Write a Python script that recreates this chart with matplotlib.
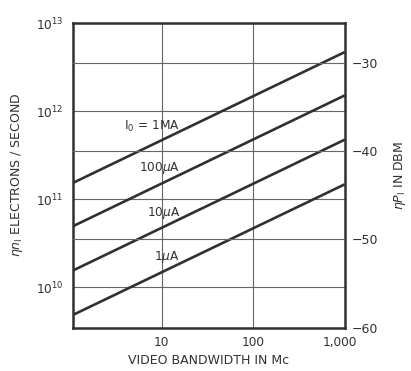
import matplotlib
matplotlib.use("Agg")
import matplotlib.pyplot as plt
import matplotlib.transforms as mtransforms
import numpy as np

# Data
bandwidth_mc = [1.0, 1000.0]
curve_labels = ["I$_0$ = 1MA", "100$\\mu$A", "10$\\mu$A", "1$\\mu$A"]
n_1ma = [1.48e11, 4.68e12]
n_100ua = [4.77e10, 1.51e12]
n_10ua = [1.50e10, 4.75e11]
n_1ua = [4.70e9, 1.48e11]
curves = [n_1ma, n_100ua, n_10ua, n_1ua]
label_pos_y = [6.7e11, 2.27e11, 7.0e10, 2.2e10]
label_pos_x = 15.8

x_ticks = [10, 100, 1000]
x_ticklabels = ["10", "100", "1,000"]
y_ticks = [1e10, 1e11, 1e12, 1e13]
y_ticklabels = ["$10^{10}$", "$10^{11}$", "$10^{12}$", "$10^{13}$"]
dbm_ticks = [-60, -50, -40, -30]
dbm_ticklabels = ["\u221260", "\u221250", "\u221240", "\u221230"]

plt.rcParams['font.family'] = ['DejaVu Sans']
plt.rcParams['mathtext.fontset'] = 'dejavusans'
ink = '#303030'
grid_c = '#666666'

fig = plt.figure(figsize=(4.11, 3.71), dpi=100)
ax = fig.add_axes([0.178, 0.117, 0.661, 0.821])
ax.set_xscale('log')
ax.set_yscale('log')
ax.set_xlim(1.08, 1000)
ymin_log = 9.544
ax.set_ylim(10**ymin_log, 1e13)

# grid lines
for xv in [10, 100]:
    ax.axvline(xv, color=grid_c, lw=0.8, zorder=1)
for yv in [1e10, 1e11, 1e12]:
    ax.axhline(yv, color=grid_c, lw=0.8, zorder=1)

for c in curves:
    ax.plot(bandwidth_mc, c, color=ink, lw=1.9, zorder=3, solid_capstyle='butt')

for lab, yv in zip(curve_labels, label_pos_y):
    ax.text(label_pos_x, yv, lab, ha='right', va='center', fontsize=8.7, color=ink)

ax.set_xticks(x_ticks)
ax.set_xticklabels(x_ticklabels)
ax.set_yticks(y_ticks)
ax.set_yticklabels(y_ticklabels)
ax.minorticks_off()
ax.tick_params(axis='both', length=0, labelsize=8.7, colors=ink)
ax.tick_params(axis='x', pad=6)
ax.tick_params(axis='y', pad=7)
labs = ax.get_xticklabels()
labs[-1].set_transform(labs[-1].get_transform() +
                       mtransforms.ScaledTranslation(-5 / 100, 0, fig.dpi_scale_trans))
for s in ax.spines.values():
    s.set_linewidth(1.8)
    s.set_color(ink)

ax.set_xlabel("VIDEO BANDWIDTH IN Mc", fontsize=9, color=ink, labelpad=4)
ax.set_ylabel("$\\eta n_{\\rm I}$ ELECTRONS / SECOND", fontsize=9, color=ink, labelpad=8)

# right axis in dBm (10 dB per decade)
ax2 = ax.twinx()
offset = -60 - 10 * ymin_log
ax2.set_ylim(-60, 130 + offset)
ax2.set_yticks(dbm_ticks)
ax2.set_yticklabels(dbm_ticklabels)
for yv in [-50, -40, -30]:
    ax2.axhline(yv, color=grid_c, lw=0.8, zorder=1)
ax2.tick_params(axis='y', length=0, labelsize=9, colors=ink, pad=5)
for s in ax2.spines.values():
    s.set_visible(False)
ax2.set_ylabel("$\\eta P_{\\rm I}$ IN DBM", fontsize=9, color=ink, labelpad=10)

fig.savefig("out.png", dpi=100, facecolor='white')
